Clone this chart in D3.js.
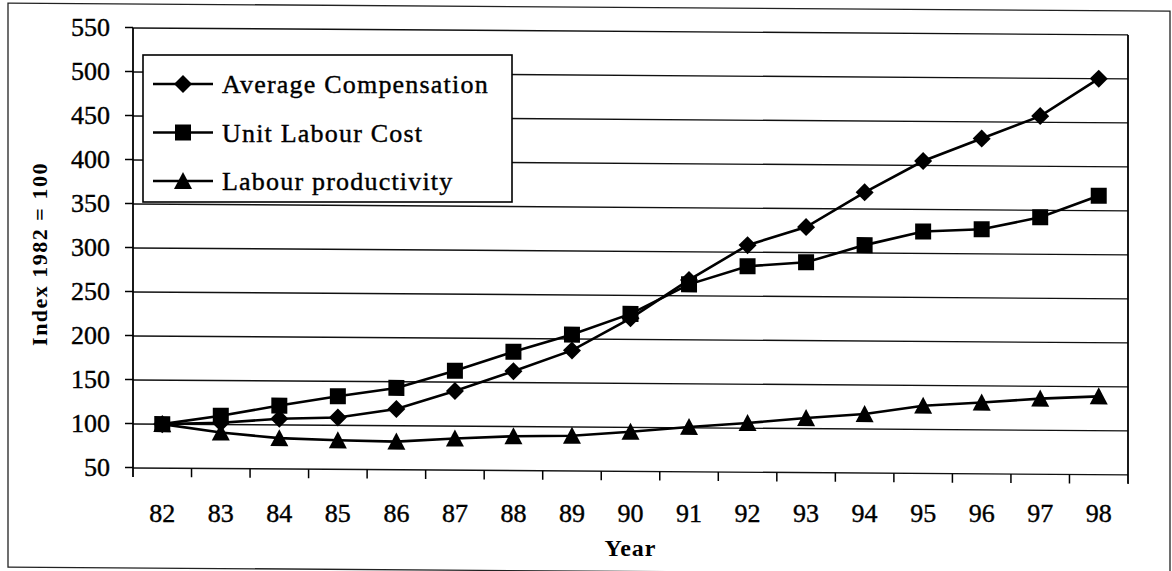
<!DOCTYPE html>
<html>
<head>
<meta charset="utf-8">
<script src="https://cdn.jsdelivr.net/npm/d3@7"></script>
<style>
  body { margin: 0; background: #fff; }
  svg text { font-family: "Liberation Serif", "Times New Roman", serif; fill: #000; }
</style>
</head>
<body>
<div id="chart"></div>
<script>
// values (index 1982 = 100)
var years = ["82", "83", "84", "85", "86", "87", "88", "89", "90", "91", "92", "93", "94", "95", "96", "97", "98"];
var avgCompensation = [100, 102, 107, 109, 119, 140, 163, 187, 224, 268, 308, 329, 369, 405, 431, 457, 500];
var unitLabourCost  = [100, 110, 122, 133, 143, 163, 185, 205, 229, 263, 284, 289, 309, 325, 328, 342, 367];
var labourProd      = [100, 91, 85, 83, 82, 86, 89, 90, 95, 101, 106, 112, 117, 127, 131, 136, 139];
var yTicks = [50, 100, 150, 200, 250, 300, 350, 400, 450, 500, 550];

var series = [
    { name: "Average Compensation", values: avgCompensation, marker: "diamond" },
    { name: "Unit Labour Cost", values: unitLabourCost, marker: "square" },
    { name: "Labour productivity", values: labourProd, marker: "triangle" }
];

var width = 1172, height = 571;
var plot = { left: 133, right: 1128, top: 27, bottom: 467 };

var svg = d3.select("#chart").append("svg")
    .attr("width", width)
    .attr("height", height);

var x = d3.scaleBand().domain(years).range([plot.left, plot.right]);
var y = d3.scaleLinear().domain([50, 550]).range([plot.bottom, plot.top]);

// marker outlines, centred on the point
function markerPath(type) {
    if (type === "diamond") return "M0,-9L9,0L0,9L-9,0Z";
    if (type === "square") return "M-8,-8H8V8H-8Z";
    return "M0,-9L9,8L-9,8Z";
}

// the scan is slightly tilted, so lines and marks get a small skew
var tilted = svg.append("g").attr("transform", "skewY(0.4)");

// outer chart frame
tilted.append("rect")
    .attr("x", 8).attr("y", 3)
    .attr("width", 1162).attr("height", 564)
    .attr("fill", "none")
    .attr("stroke", "#222")
    .attr("stroke-width", 1.3);

// gridlines
tilted.append("g").selectAll("line")
    .data(yTicks)
    .join("line")
    .attr("x1", plot.left).attr("x2", plot.right)
    .attr("y1", function(d) { return y(d); })
    .attr("y2", function(d) { return y(d); })
    .attr("stroke", "#111")
    .attr("stroke-width", 1.4);

// plot border (left and right sides)
tilted.append("line")
    .attr("x1", plot.left).attr("x2", plot.left)
    .attr("y1", plot.top).attr("y2", plot.bottom + 9)
    .attr("stroke", "#000").attr("stroke-width", 1.8);
tilted.append("line")
    .attr("x1", plot.right).attr("x2", plot.right)
    .attr("y1", plot.top).attr("y2", plot.bottom + 9)
    .attr("stroke", "#000").attr("stroke-width", 1.8);

// x ticks sit between the categories
tilted.append("g").selectAll("line")
    .data(years.slice(1))
    .join("line")
    .attr("x1", function(d) { return x(d); })
    .attr("x2", function(d) { return x(d); })
    .attr("y1", plot.bottom).attr("y2", plot.bottom + 9)
    .attr("stroke", "#000").attr("stroke-width", 1.5);

// y axis
var yAxis = svg.append("g")
    .attr("transform", "translate(" + plot.left + ",0)")
    .call(d3.axisLeft(y).tickValues(yTicks).tickSize(8).tickPadding(15));
yAxis.select(".domain").remove();
yAxis.selectAll(".tick line").attr("stroke", "#000").attr("stroke-width", 1.5);
yAxis.selectAll("text")
    .attr("font-family", "Liberation Serif, Times New Roman, serif")
    .attr("font-size", 26)
    .attr("fill", "#000")
    .attr("stroke", "#000")
    .attr("stroke-width", 0.4);

// x axis labels
var xAxis = svg.append("g")
    .attr("transform", "translate(0," + plot.bottom + ")")
    .call(d3.axisBottom(x).tickSize(0).tickPadding(37));
xAxis.select(".domain").remove();
xAxis.selectAll("text")
    .attr("font-family", "Liberation Serif, Times New Roman, serif")
    .attr("font-size", 26)
    .attr("fill", "#000")
    .attr("stroke", "#000")
    .attr("stroke-width", 0.4);

// axis titles
svg.append("text")
    .attr("x", (plot.left + plot.right) / 2)
    .attr("y", 556)
    .attr("text-anchor", "middle")
    .attr("font-size", 24)
    .attr("font-weight", "bold")
    .attr("letter-spacing", 1)
    .text("Year");

svg.append("text")
    .attr("transform", "translate(47,254) rotate(-90)")
    .attr("text-anchor", "middle")
    .attr("font-size", 22)
    .attr("font-weight", "bold")
    .attr("letter-spacing", 1.5)
    .text("Index 1982 = 100");

// series lines and markers
var line = d3.line()
    .x(function(d, i) { return x(years[i]) + x.bandwidth() / 2; })
    .y(function(d) { return y(d); });

series.forEach(function(s) {
    tilted.append("path")
        .datum(s.values)
        .attr("d", line)
        .attr("fill", "none")
        .attr("stroke", "#000")
        .attr("stroke-width", 2.6);

    tilted.append("g").selectAll("path")
        .data(s.values)
        .join("path")
        .attr("transform", function(d, i) {
            return "translate(" + (x(years[i]) + x.bandwidth() / 2) + "," + y(d) + ")";
        })
        .attr("d", markerPath(s.marker))
        .attr("fill", "#000");
});

// legend box
var legend = svg.append("g");
legend.append("rect")
    .attr("x", 143).attr("y", 55)
    .attr("width", 369).attr("height", 147)
    .attr("fill", "#fff")
    .attr("stroke", "#000")
    .attr("stroke-width", 1.6);

var rows = legend.selectAll("g.row")
    .data(series)
    .join("g")
    .attr("class", "row")
    .attr("transform", function(d, i) { return "translate(153," + (84 + i * 48.5) + ")"; });

rows.append("line")
    .attr("x1", 0).attr("x2", 60)
    .attr("stroke", "#000").attr("stroke-width", 2.6);
rows.append("path")
    .attr("transform", "translate(30,0)")
    .attr("d", function(d) { return markerPath(d.marker); })
    .attr("fill", "#000");
rows.append("text")
    .attr("x", 69).attr("y", 9)
    .attr("font-size", 26)
    .attr("letter-spacing", 1.2)
    .attr("stroke", "#000")
    .attr("stroke-width", 0.4)
    .text(function(d) { return d.name; });
</script>
</body>
</html>
